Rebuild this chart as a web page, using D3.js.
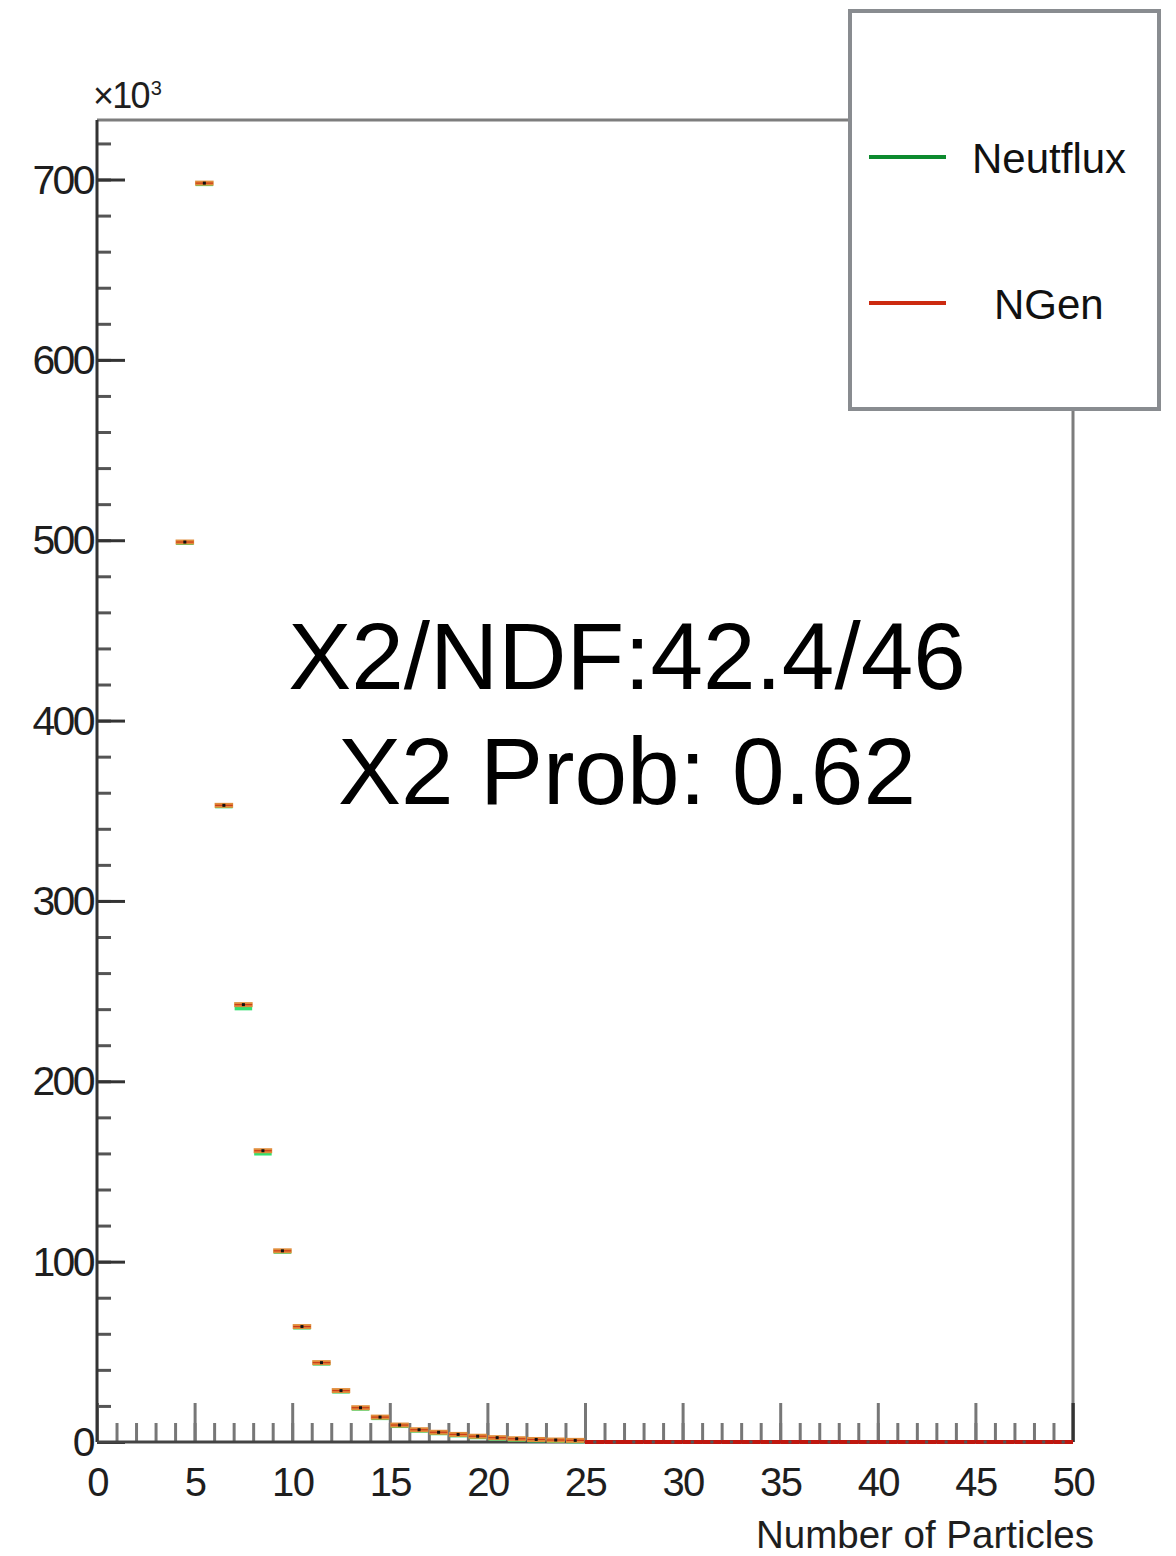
<!DOCTYPE html>
<html>
<head>
<meta charset="utf-8">
<script src="https://cdn.jsdelivr.net/npm/d3@7"></script>
<style>
  body { margin: 0; background: #fff; }
  svg { display: block; }
  .tick text { font-family: "Liberation Sans", Arial, sans-serif; fill: #1e1e1e; }
</style>
</head>
<body>
<div id="chart"></div>
<script>
// bins of width 1, lower edges
const binStart = [0,1,2,3,4,5,6,7,8,9,10,11,12,13,14,15,16,17,18,19,20,21,22,23,24,
                  25,26,27,28,29,30,31,32,33,34,35,36,37,38,39,40,41,42,43,44,45,46,47,48,49]
// counts in thousands (null = empty bin, not drawn)
const ngen = [null,null,null,null,499,698,353,242.5,161.5,106,64,44,28.5,19,13.8,9.4,6.8,5.4,4.2,3.2,2.4,1.8,1.4,1.1,0.9,
              0,0,0,0,0,0,0,0,0,0,0,0,0,0,0,0,0,0,0,0,0,0,0,0,0]
const neutflux = [null,null,null,null,499,698,353,241,160.5,106,64,44,28.5,19,13.8,9.4,6.8,5.4,4.2,3.2,2.4,1.8,1.4,1.1,0.9,
              0,0,0,0,0,0,0,0,0,0,0,0,0,0,0,0,0,0,0,0,0,0,0,0,0]
const xTickValues = [0,5,10,15,20,25,30,35,40,45,50]
const yTickValues = [0,100,200,300,400,500,600,700]
const legendLabels = ['Neutflux', 'NGen']
const statLines = ['X2/NDF:42.4/46', 'X2 Prob: 0.62']

const width = 1176, height = 1556
const margin = {top: 120, left: 97, right: 103, bottom: 114}
const font = '"Liberation Sans", Arial, sans-serif'

const svg = d3.select('#chart').append('svg')
    .attr('width', width)
    .attr('height', height)

const xScale = d3.scaleLinear()
    .domain([0, 50])
    .range([margin.left, width - margin.right])
const yScale = d3.scaleLinear()
    .domain([0, 733])
    .range([height - margin.bottom, margin.top])

const y0 = yScale(0)

// frame (top + right)
svg.append('path')
    .attr('d', `M${xScale(0)},${yScale(733)} H${xScale(50)} V${y0}`)
    .attr('fill', 'none')
    .attr('stroke', '#7d7d7d')
    .attr('stroke-width', 3)

// minor y ticks
svg.append('g')
    .attr('transform', `translate(${xScale(0)},0)`)
    .call(d3.axisLeft(yScale).tickValues(d3.range(0, 721, 20)).tickSize(-14).tickFormat(''))
    .call(g => g.select('.domain').remove())
    .call(g => g.selectAll('line').attr('stroke', '#555').attr('stroke-width', 3))

// major y ticks with labels
svg.append('g')
    .attr('transform', `translate(${xScale(0)},0)`)
    .call(d3.axisLeft(yScale).tickValues(yTickValues).tickSize(-28).tickPadding(4))
    .call(g => g.select('.domain').remove())
    .call(g => g.selectAll('line').attr('stroke', '#333').attr('stroke-width', 3))
    .call(g => g.selectAll('text').attr('font-size', 41).attr('letter-spacing', -2.6).attr('dy', '0.33em'))

// minor x ticks
svg.append('g')
    .attr('transform', `translate(0,${y0})`)
    .call(d3.axisBottom(xScale).tickValues(d3.range(0, 51, 1)).tickSize(-19).tickFormat(''))
    .call(g => g.select('.domain').remove())
    .call(g => g.selectAll('line').attr('stroke', '#777').attr('stroke-width', 3))

// major x ticks with labels
svg.append('g')
    .attr('transform', `translate(0,${y0})`)
    .call(d3.axisBottom(xScale).tickValues(xTickValues).tickSize(-39).tickPadding(26))
    .call(g => g.select('.domain').remove())
    .call(g => g.selectAll('line').attr('stroke', '#777').attr('stroke-width', 3))
    .call(g => g.selectAll('text').attr('font-size', 40).attr('letter-spacing', -1.6))

// axis lines
svg.append('line')
    .attr('x1', xScale(0)).attr('x2', xScale(0))
    .attr('y1', yScale(733)).attr('y2', y0)
    .attr('stroke', '#333').attr('stroke-width', 3)
svg.append('line')
    .attr('x1', xScale(0)).attr('x2', xScale(50))
    .attr('y1', y0).attr('y2', y0)
    .attr('stroke', '#444').attr('stroke-width', 3)

// tick at right end
svg.append('line')
    .attr('x1', xScale(50)).attr('x2', xScale(50))
    .attr('y1', y0).attr('y2', y0 - 39)
    .attr('stroke', '#333').attr('stroke-width', 3)

// axis title and exponent
svg.append('text')
    .attr('x', width - 82).attr('y', 1548)
    .attr('text-anchor', 'end')
    .attr('font-family', font).attr('font-size', 38.5)
    .attr('fill', '#1e1e1e')
    .text('Number of Particles')

const expo = svg.append('text')
    .attr('x', 93).attr('y', 108)
    .attr('font-family', font).attr('font-size', 36).attr('letter-spacing', -1.8)
    .attr('fill', '#1e1e1e')
expo.append('tspan').text('\u00d710')
expo.append('tspan').attr('font-size', 20).attr('dy', -13).attr('dx', 2).text('3')

// data
const bins = binStart.map((b, i) => ({x0: b, x1: b + 1, ngen: ngen[i], neut: neutflux[i]}))
const filled = bins.filter(d => d.ngen !== null && d.ngen > 0)
const empty = bins.filter(d => d.ngen === 0)

const markers = svg.append('g')

// Neutflux (green), drawn under
markers.selectAll('.neut')
    .data(filled)
    .join('line')
    .attr('x1', d => xScale(d.x0) + 1).attr('x2', d => xScale(d.x1) - 1)
    .attr('y1', d => yScale(d.neut) + 1).attr('y2', d => yScale(d.neut) + 1)
    .attr('stroke', '#33e070').attr('stroke-width', 4)

// NGen error boxes (orange)
markers.selectAll('.box')
    .data(filled)
    .join('rect')
    .attr('x', d => xScale(d.x0) + 0.5)
    .attr('width', d => xScale(d.x1) - xScale(d.x0) - 1)
    .attr('y', d => yScale(d.ngen) - 2.5)
    .attr('height', 5)
    .attr('fill', '#e08c3a')

markers.selectAll('.ngen')
    .data(filled)
    .join('line')
    .attr('x1', d => xScale(d.x0) + 1).attr('x2', d => xScale(d.x1) - 1)
    .attr('y1', d => yScale(d.ngen)).attr('y2', d => yScale(d.ngen))
    .attr('stroke', '#cc3a1a').attr('stroke-width', 1.2)

markers.selectAll('.dot')
    .data(filled)
    .join('rect')
    .attr('x', d => xScale((d.x0 + d.x1) / 2) - 1.5)
    .attr('y', d => yScale(d.ngen) - 1.5)
    .attr('width', 3).attr('height', 3)
    .attr('fill', '#111')

// zero bins -> red line on the axis
markers.selectAll('.zero')
    .data(empty)
    .join('line')
    .attr('x1', d => xScale(d.x0)).attr('x2', d => xScale(d.x1))
    .attr('y1', y0).attr('y2', y0)
    .attr('stroke', '#c0160e').attr('stroke-width', 4)
markers.selectAll('.zdot')
    .data(empty)
    .join('rect')
    .attr('x', d => xScale((d.x0 + d.x1) / 2) - 1.5)
    .attr('y', y0 - 1.5)
    .attr('width', 3).attr('height', 3)
    .attr('fill', '#555')

// fit statistics
svg.append('g')
    .selectAll('text')
    .data(statLines)
    .join('text')
    .attr('x', 627)
    .attr('y', (d, i) => 689 + i * 115)
    .attr('text-anchor', 'middle')
    .attr('font-family', font).attr('font-size', 94.5)
    .attr('fill', '#000')
    .text(d => d)

// legend
const legend = svg.append('g')
legend.append('rect')
    .attr('x', 850).attr('y', 11)
    .attr('width', 309).attr('height', 398)
    .attr('fill', '#fff')
    .attr('stroke', '#898c90').attr('stroke-width', 4)

const legendColors = ['#0d8a2e', '#cc2a10']
const legendY = [157, 303]
const legendTextX = [972, 994]

legendLabels.forEach((label, i) => {
    legend.append('line')
        .attr('x1', 869).attr('x2', 946)
        .attr('y1', legendY[i]).attr('y2', legendY[i])
        .attr('stroke', legendColors[i]).attr('stroke-width', 4)
    legend.append('text')
        .attr('x', legendTextX[i]).attr('y', legendY[i] + 16)
        .attr('font-family', font).attr('font-size', 42)
        .attr('fill', '#111')
        .text(label)
})
</script>
</body>
</html>
